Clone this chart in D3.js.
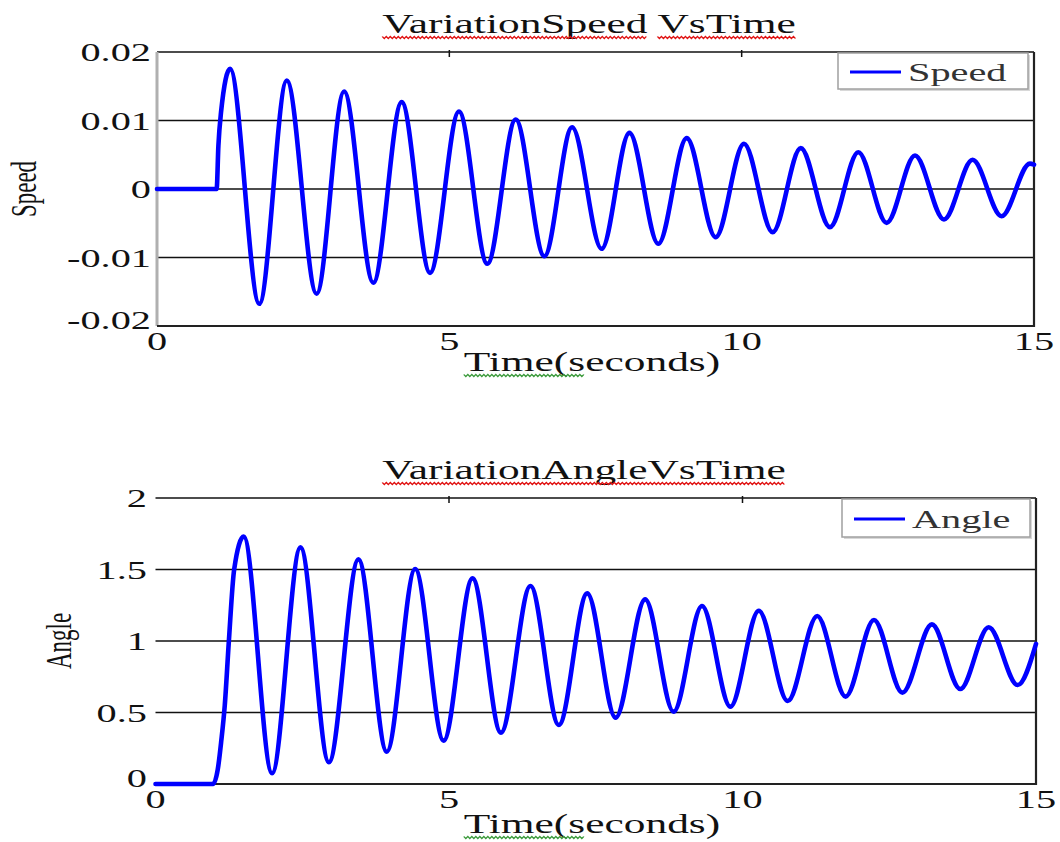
<!DOCTYPE html>
<html lang="en">
<head>
    <meta charset="UTF-8">
    <title>Variation Speed / Angle Vs Time</title>
    <script src="https://d3js.org/d3.v7.min.js"></script>
    <style>
        body {
            margin: 0;
            background: #fff;
        }
        svg {
            display: block;
        }
    </style>
</head>
<body>
    <div id="chart"></div>

    <script>
        // ---- data ----
        const timeTicks = [0, 5, 10, 15];
        const timeTickLabels = ['0', '5', '10', '15'];

        const speedTicks = [0.02, 0.01, 0, -0.01, -0.02];
        const speedTickLabels = ['0.02', '0.01', '0', '-0.01', '-0.02'];

        const angleTicks = [2, 1.5, 1, 0.5, 0];
        const angleTickLabels = ['2', '1.5', '1', '0.5', '0'];

        // speed: flat, then a sharp start and a slowly damped swing (peaks / troughs)
        const speedTime = [0, 1.02, 1.05, 1.095, 1.25, 1.75, 2.22, 2.73, 3.20, 3.70, 4.185, 4.67,
            5.165, 5.65, 6.135, 6.625, 7.10, 7.605, 8.08, 8.575, 9.06, 9.555, 10.04, 10.53,
            11.01, 11.51, 11.995, 12.48, 12.965, 13.46, 13.95, 14.445, 14.93, 15.0];
        const speedValue = [0, 0, 0.0063, 0.0112, 0.01755, -0.01676, 0.01584, -0.0153, 0.01423, -0.01369, 0.01268, -0.01224,
            0.01131, -0.01092, 0.01015, -0.00981, 0.00902, -0.00873, 0.0082, -0.0080, 0.00742, -0.00704, 0.0066, -0.0063,
            0.00596, -0.00557, 0.00537, -0.00494, 0.00489, -0.00445, 0.00426, -0.00397, 0.0037, 0.00355];

        // angle: flat, steep rise, then damped swing around ~0.9
        const angleTime = [0, 0.98, 1.06, 1.12, 1.18, 1.25, 1.34, 1.503, 1.986, 2.470, 2.954, 3.457, 3.940,
            4.424, 4.908, 5.401, 5.885, 6.388, 6.872, 7.355, 7.838, 8.342, 8.826, 9.310, 9.794,
            10.277, 10.770, 11.273, 11.757, 12.240, 12.724, 13.227, 13.710, 14.194, 14.688, 15.0];
        const angleValue = [0, 0, 0.1, 0.3, 0.55, 1.0, 1.5, 1.73, 0.075, 1.655, 0.152, 1.571, 0.226,
            1.503, 0.303, 1.438, 0.359, 1.385, 0.413, 1.333, 0.464, 1.291, 0.506, 1.245, 0.541,
            1.212, 0.580, 1.175, 0.611, 1.147, 0.639, 1.116, 0.664, 1.096, 0.692, 0.98];

        // ---- look ----
        const SX = 1.55;   // the original picture is stretched sideways
        const FONT = "'Liberation Serif', 'Times New Roman', serif";
        const BLUE = '#0000ff';

        const svg = d3.select('#chart')
            .append('svg')
            .attr('width', 1060)
            .attr('height', 842);

        svg.append('rect').attr('width', 1060).attr('height', 842).attr('fill', '#fff');

        // stretched text, optionally rotated; returns the inner text node
        function stext(parent, x, y, str, size, anchor, color, rotate) {
            const g = parent.append('g')
                .attr('transform', `translate(${x},${y}) scale(${SX},1)` + (rotate ? ' rotate(-90)' : ''));
            const t = g.append('text')
                .attr('text-anchor', anchor)
                .style('font-family', FONT)
                .style('font-size', size + 'px')
                .attr('fill', color)
                .text(str);
            return t;
        }

        // spell-check style wavy underline under chars [from, to)
        function squiggle(textSel, from, to, color) {
            const node = textSel.node();
            const g = d3.select(node.parentNode);
            const start = node.getStartPositionOfChar(from).x;
            const len = node.getSubStringLength(from, to - from);
            const step = 2 / SX;
            const pts = [];
            for (let i = 0, x = start; x <= start + len; i++, x += step) {
                pts.push([x, i % 2 ? 5.5 : 3.5]);
            }
            g.append('path')
                .attr('d', d3.line()(pts))
                .attr('fill', 'none')
                .attr('stroke', color)
                .attr('stroke-width', 1);
        }

        function drawPanel(p) {
            const x = d3.scaleLinear().domain([0, 15]).range([p.left, p.right]);
            const y = d3.scaleLinear().domain(p.yDomain).range([p.bottom, p.top]);
            const g = svg.append('g');

            // grid lines
            p.yTicks.forEach(v => {
                g.append('line')
                    .attr('x1', p.left).attr('x2', p.right)
                    .attr('y1', y(v)).attr('y2', y(v))
                    .attr('stroke', '#111').attr('stroke-width', 1.6);
            });

            // frame
            if (p.leftBorder) {
                g.append('line')
                    .attr('x1', p.left).attr('x2', p.left)
                    .attr('y1', p.top).attr('y2', p.bottom)
                    .attr('stroke', '#b0b0b0').attr('stroke-width', 3);
            }
            g.append('line')
                .attr('x1', p.right).attr('x2', p.right)
                .attr('y1', p.top).attr('y2', p.bottom + 1)
                .attr('stroke', '#222').attr('stroke-width', 2.2);
            g.append('line')
                .attr('x1', p.left).attr('x2', p.right + 1)
                .attr('y1', p.bottom).attr('y2', p.bottom)
                .attr('stroke', '#222').attr('stroke-width', 2.2);

            // small ticks on the top edge
            timeTicks.slice(1, -1).forEach(t => {
                g.append('line')
                    .attr('x1', x(t)).attr('x2', x(t))
                    .attr('y1', p.top - 2).attr('y2', p.top + 5)
                    .attr('stroke', '#111').attr('stroke-width', 1.5);
            });

            // the series
            const data = p.times.map((t, i) => ({ t: t, v: p.values[i] }));
            const line = d3.line()
                .x(d => x(d.t))
                .y(d => y(d.v))
                .curve(d3.curveMonotoneX);
            g.append('path')
                .datum(data)
                .attr('d', line)
                .attr('fill', 'none')
                .attr('stroke', BLUE)
                .attr('stroke-width', 4.6)
                .attr('stroke-linejoin', 'round')
                .attr('stroke-linecap', 'round');

            // y tick labels
            const yMin = d3.min(p.yTicks);
            p.yTicks.forEach((v, i) => {
                const shift = v === yMin ? -6 : 0;
                stext(g, p.yLabelRight, y(v) + 9 + shift, p.yTickLabels[i], 26, 'end', '#111');
            });

            // x tick labels
            timeTicks.forEach((t, i) => {
                stext(g, x(t), p.bottom + 24, timeTickLabels[i], 26, 'middle', '#111');
            });

            // titles
            const title = stext(g, p.titleX, p.titleY, p.title, 28, 'middle', '#111');
            p.titleWords.forEach(w => squiggle(title, w[0], w[1], '#e01010'));

            const xl = stext(g, 592, p.xTitleY, 'Time(seconds)', 28, 'middle', '#111');
            squiggle(xl, 0, 6, '#3a9a3a');

            stext(g, p.yTitleX, (p.top + p.bottom) / 2, p.yTitle, 23, 'middle', '#111', true);

            // legend
            const lg = p.legend;
            g.append('rect')
                .attr('x', lg.x + 2).attr('y', lg.y + 2)
                .attr('width', lg.w).attr('height', lg.h)
                .attr('fill', '#d8d8d8');
            g.append('rect')
                .attr('x', lg.x).attr('y', lg.y)
                .attr('width', lg.w).attr('height', lg.h)
                .attr('fill', '#fff')
                .attr('stroke', '#a0a0a0').attr('stroke-width', 1.5);
            g.append('line')
                .attr('x1', lg.x + 12).attr('x2', lg.x + 63)
                .attr('y1', lg.y + lg.h / 2 + 1).attr('y2', lg.y + lg.h / 2 + 1)
                .attr('stroke', BLUE).attr('stroke-width', 3);
            stext(g, lg.x + 70, lg.y + lg.h / 2 + 10, p.yTitle, 26, 'start', '#333');
        }

        drawPanel({
            left: 157, right: 1034, top: 52, bottom: 326,
            yDomain: [-0.02, 0.02],
            yTicks: speedTicks, yTickLabels: speedTickLabels,
            yLabelRight: 151,
            times: speedTime, values: speedValue,
            title: 'VariationSpeed VsTime', titleX: 589, titleY: 33,
            titleWords: [[0, 14], [15, 21]],
            xTitleY: 371,
            yTitle: 'Speed', yTitleX: 36,
            leftBorder: true,
            legend: { x: 838, y: 53, w: 190, h: 36 }
        });

        drawPanel({
            left: 155.5, right: 1036, top: 498, bottom: 784,
            yDomain: [0, 2],
            yTicks: angleTicks, yTickLabels: angleTickLabels,
            yLabelRight: 147,
            times: angleTime, values: angleValue,
            title: 'VariationAngleVsTime', titleX: 584, titleY: 479,
            titleWords: [[0, 20]],
            xTitleY: 833,
            yTitle: 'Angle', yTitleX: 71,
            leftBorder: false,
            legend: { x: 842, y: 499, w: 188, h: 38 }
        });
    </script>
</body>
</html>
